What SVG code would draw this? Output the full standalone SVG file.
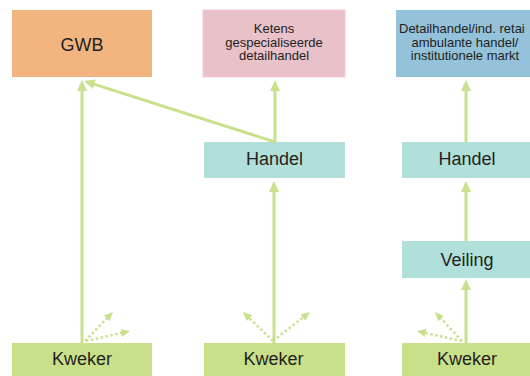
<svg xmlns="http://www.w3.org/2000/svg" width="530" height="376" viewBox="0 0 530 376">
<style>
text{font-family:"Liberation Sans",Arial,sans-serif;fill:#231f20;text-anchor:middle}
.big{font-size:18px}
.small{font-size:13px}
.solid{stroke:#c9e08c;stroke-width:3;fill:none}
.dot{stroke:#c9e08c;stroke-width:2.5;fill:none;stroke-dasharray:2.5 2.5}
</style>
<defs>
<marker id="ah" markerUnits="userSpaceOnUse" markerWidth="12" markerHeight="11" refX="3" refY="5" orient="auto" viewBox="0 0 12 10">
<path d="M0,0 L11,5 L0,10 z" fill="#c9e08c"/>
</marker>
<marker id="ahs" markerUnits="userSpaceOnUse" markerWidth="10" markerHeight="9" refX="2" refY="4" orient="auto" viewBox="0 0 10 8">
<path d="M0,0 L9,4 L0,8 z" fill="#c9e08c"/>
</marker>
</defs>
<rect width="530" height="376" fill="#ffffff"/>
<g id="gwb"><rect x="12" y="10" width="140" height="67" fill="#f3b580"/><text class="big" x="82" y="51">GWB</text></g>
<g id="ketens"><rect x="203" y="10" width="142" height="67" fill="#e8c1c9" stroke="#f6c7d8" stroke-width="1"/><text class="small" x="274" y="32.5">Ketens</text><text class="small" x="274" y="46.5">gespecialiseerde</text><text class="small" x="274" y="60">detailhandel</text></g>
<g id="detail"><rect x="396" y="10" width="140" height="67" fill="#93c2da"/><text class="small" x="399" y="32.5" style="text-anchor:start">Detailhandel/ind. retai</text><text class="small" x="465" y="46.5">ambulante handel/</text><text class="small" x="465" y="60">institutionele markt</text></g>
<g id="handel2"><rect x="204" y="142" width="141" height="36" fill="#b1dfd9"/><text class="big" x="274.5" y="165">Handel</text></g>
<g id="handel3"><rect x="402" y="142" width="130" height="36" fill="#b1dfd9"/><text class="big" x="467" y="165">Handel</text></g>
<g id="veiling"><rect x="402" y="241" width="130" height="37" fill="#b1dfd9"/><text class="big" x="467" y="266">Veiling</text></g>
<g id="kweker1"><rect x="12" y="343" width="140" height="35" fill="#c9e08a"/><text class="big" x="82" y="365">Kweker</text></g>
<g id="kweker2"><rect x="204" y="343" width="141" height="35" fill="#c9e08a"/><text class="big" x="273.5" y="365">Kweker</text></g>
<g id="kweker3"><rect x="402" y="343" width="130" height="35" fill="#c9e08a"/><text class="big" x="467" y="365">Kweker</text></g>
<g id="connectors">
<line class="solid" x1="82" y1="343" x2="82" y2="88" marker-end="url(#ah)"/>
<line class="solid" x1="275" y1="142" x2="91.6" y2="83.4" marker-end="url(#ah)"/>
<line class="solid" x1="275" y1="142" x2="275" y2="88" marker-end="url(#ah)"/>
<line class="solid" x1="274" y1="343" x2="274" y2="189" marker-end="url(#ah)"/>
<line class="solid" x1="466" y1="142" x2="466" y2="88" marker-end="url(#ah)"/>
<line class="solid" x1="466" y1="241" x2="466" y2="189" marker-end="url(#ah)"/>
<line class="solid" x1="466" y1="343" x2="466" y2="287" marker-end="url(#ah)"/>
<line class="dot" x1="85" y1="341" x2="108.1" y2="317" marker-end="url(#ahs)"/>
<line class="dot" x1="86" y1="341" x2="123.2" y2="332.6" marker-end="url(#ahs)"/>
<line class="dot" x1="273" y1="341" x2="248" y2="316.9" marker-end="url(#ahs)"/>
<line class="dot" x1="273" y1="341" x2="304.5" y2="316.3" marker-end="url(#ahs)"/>
<line class="dot" x1="462" y1="341" x2="439.7" y2="317.2" marker-end="url(#ahs)"/>
<line class="dot" x1="462" y1="341" x2="423.8" y2="332.6" marker-end="url(#ahs)"/>
</g>
</svg>
